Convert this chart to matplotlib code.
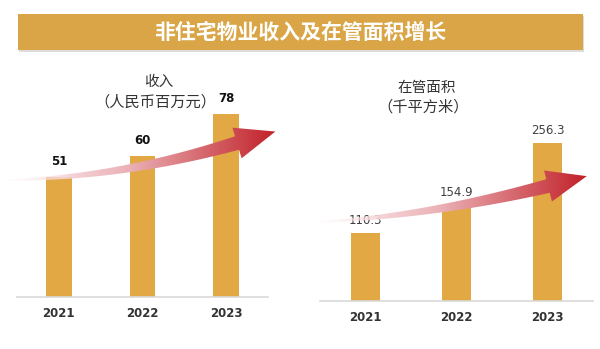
import numpy as np
import matplotlib.pyplot as plt
from matplotlib.patches import Polygon, Rectangle

plt.rcParams['font.family'] = ['Noto Sans CJK SC', 'DejaVu Sans']

years = ['2021', '2022', '2023']
revenue = [51, 60, 78]
revenue_labels = ['51', '60', '78']
area = [110.3, 154.9, 256.3]
area_labels = ['110.3', '154.9', '256.3']

W, H = 600, 349
BAR = '#E1A843'
BANNER = '#D9A546'


def ax_rect(x0, y_top, x1, y_bottom):
    # pixel box -> figure fraction
    return [x0 / W, 1 - y_bottom / H, (x1 - x0) / W, (y_bottom - y_top) / H]


def bar_panel(fig, rect, values, labels, ymax, label_style, offset):
    ax = fig.add_axes(rect)
    ax.patch.set_alpha(0)
    x = np.arange(len(years))
    ax.bar(x, values, width=0.31, color=BAR, zorder=2)
    ax.set_xlim(-0.5, 2.5)
    ax.set_ylim(0, ymax)
    for s in ['top', 'right', 'left']:
        ax.spines[s].set_visible(False)
    ax.spines['bottom'].set_color('#D9D9D9')
    ax.spines['bottom'].set_linewidth(1.2)
    ax.set_yticks([])
    ax.set_xticks(x)
    ax.set_xticklabels(years, fontsize=8.5, fontweight='bold', color='#333333',
                       family='DejaVu Sans')
    ax.tick_params(axis='x', length=0, pad=7)
    for xi, v, lab in zip(x, values, labels):
        ax.annotate(lab, (xi, v), xytext=(0, offset), textcoords='offset points',
                    ha='center', va='center', family='DejaVu Sans', **label_style)
    return ax


def gradient_arrow(ax, p0, p1, p2, w_end=7.0, head_w=16.0, head_len=40.0):
    t = np.linspace(0, 1, 80)
    p0, p1, p2 = map(np.array, (p0, p1, p2))
    c = ((1 - t) ** 2)[:, None] * p0 + (2 * (1 - t) * t)[:, None] * p1 + (t ** 2)[:, None] * p2
    d = (2 * (1 - t))[:, None] * (p1 - p0) + (2 * t)[:, None] * (p2 - p1)
    d = d / np.linalg.norm(d, axis=1)[:, None]
    n = np.column_stack([-d[:, 1], d[:, 0]])
    w = 0.8 + (w_end - 0.8) * t ** 1.1
    top = c - n * w[:, None]
    bot = c + n * w[:, None]
    de = d[-1]
    ne = n[-1]
    tip = p2 + de * head_len
    pts = np.vstack([top, [p2 - ne * head_w], [tip], [p2 + ne * head_w], bot[::-1]])

    poly = Polygon(pts, closed=True, facecolor='none', edgecolor='none')
    ax.add_patch(poly)

    x0, x1 = pts[:, 0].min(), pts[:, 0].max()
    y0, y1 = pts[:, 1].min(), pts[:, 1].max()
    g = np.linspace(0, 1, 256)
    # white -> pink -> deep red along the arrow
    stops = np.array([0.0, 0.45, 1.0])
    cols = np.array([[1.0, 0.97, 0.97], [0.92, 0.70, 0.72], [0.76, 0.13, 0.16]])
    col = np.column_stack([np.interp(g, stops, cols[:, k]) for k in range(3)])
    alpha = np.clip(0.25 + g * 3.0, 0, 1)
    img = np.dstack([col[:, 0], col[:, 1], col[:, 2], alpha])
    img = np.tile(img, (8, 1, 1))
    im = ax.imshow(img, extent=[x0, x1, y1, y0], aspect='auto', interpolation='bilinear',
                   zorder=5)
    im.set_clip_path(poly)


fig = plt.figure(figsize=(W / 100, H / 100), dpi=100)

# banner
deco_bg = fig.add_axes([0, 0, 1, 1])
deco_bg.set_xlim(0, W)
deco_bg.set_ylim(H, 0)
deco_bg.axis('off')
deco_bg.add_patch(Rectangle((19, 16), 565, 36, facecolor='#BBBBBB', edgecolor='none', alpha=0.5))
deco_bg.add_patch(Rectangle((18, 14), 565, 36, facecolor=BANNER, edgecolor='none'))
deco_bg.text(300, 32, '非住宅物业收入及在管面积增长', ha='center', va='center',
             color='white', fontsize=15, fontweight='bold')

# left panel
bar_panel(fig, ax_rect(17, 90, 268, 297), revenue, revenue_labels, 88,
          dict(fontsize=8.5, fontweight='bold', color='#111111'), 11)
deco_bg.text(159, 82, '收入', ha='center', va='center', fontsize=10.5, color='#333333')
deco_bg.text(155, 102, '（人民币百万元）', ha='center', va='center', fontsize=11,
             color='#333333')

# right panel
bar_panel(fig, ax_rect(320, 120, 593, 301), area, area_labels, 293,
          dict(fontsize=8.5, color='#404040'), 9)
deco_bg.text(427, 88, '在管面积', ha='center', va='center', fontsize=10.5, color='#333333')
deco_bg.text(423, 107, '（千平方米）', ha='center', va='center', fontsize=11,
             color='#333333')

# arrows on top
deco = fig.add_axes([0, 0, 1, 1])
deco.set_xlim(0, W)
deco.set_ylim(H, 0)
deco.axis('off')
deco.patch.set_alpha(0)
gradient_arrow(deco, (5, 180), (120, 178), (237, 143))
gradient_arrow(deco, (317, 222), (430, 216), (548, 186))
deco.set_xlim(0, W)
deco.set_ylim(H, 0)

fig.savefig('out.png', dpi=100)
